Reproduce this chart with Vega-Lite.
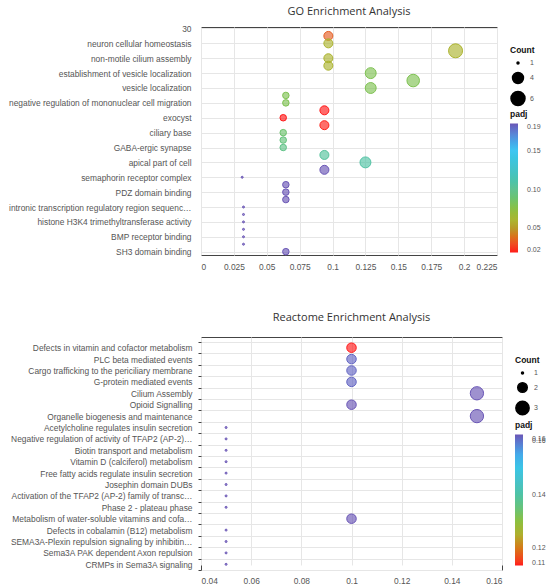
{
  "$schema": "https://vega.github.io/schema/vega-lite/v6.json",
  "padding": {"top": 5, "left": 8, "right": 0, "bottom": 0},
  "spacing": 40,
  "config": {
    "font": "Liberation Sans",
    "view": {"stroke": "#444444", "strokeWidth": 1},
    "axis": {"domain": false, "gridColor": "#e6e6e6", "gridWidth": 1, "labelColor": "#555555", "labelFont": "Liberation Sans", "labelFontSize": 8.4, "ticks": false, "labelPadding": 7, "title": null},
    "title": {"font": "Open Sans", "fontSize": 11, "fontWeight": "normal", "color": "#333333", "anchor": "middle"},
    "legend": {"titleFont": "Liberation Sans", "titleFontSize": 8.5, "titleFontWeight": "bold", "titleColor": "#111111", "labelFont": "Liberation Sans", "labelFontSize": 7, "labelColor": "#555555"}
  },
  "vconcat": [
    {
      "title": {"text": "GO Enrichment Analysis", "offset": 7},
      "width": 296,
      "height": 228,
      "data": {"values": [
        {"rank": 29, "ratio": 0.0968, "count": 3, "padj": 0.036},
        {"rank": 28, "term": "neuron cellular homeostasis", "ratio": 0.0968, "count": 3, "padj": 0.06},
        {"rank": 27, "ratio": 0.1935, "count": 6, "padj": 0.06},
        {"rank": 26, "term": "non-motile cilium assembly", "ratio": 0.0968, "count": 3, "padj": 0.06},
        {"rank": 25, "ratio": 0.0968, "count": 3, "padj": 0.06},
        {"rank": 24, "term": "establishment of vesicle localization", "ratio": 0.129, "count": 4, "padj": 0.08},
        {"rank": 23, "ratio": 0.1613, "count": 5, "padj": 0.08},
        {"rank": 22, "term": "vesicle localization", "ratio": 0.129, "count": 4, "padj": 0.08},
        {"rank": 21, "ratio": 0.0645, "count": 2, "padj": 0.08},
        {"rank": 20, "term": "negative regulation of mononuclear cell migration", "ratio": 0.0645, "count": 2, "padj": 0.08},
        {"rank": 19, "ratio": 0.0938, "count": 3, "padj": 0.019},
        {"rank": 18, "term": "exocyst", "ratio": 0.0625, "count": 2, "padj": 0.019},
        {"rank": 17, "ratio": 0.0938, "count": 3, "padj": 0.02},
        {"rank": 16, "term": "ciliary base", "ratio": 0.0625, "count": 2, "padj": 0.088},
        {"rank": 15, "ratio": 0.0625, "count": 2, "padj": 0.093},
        {"rank": 14, "term": "GABA-ergic synapse", "ratio": 0.0625, "count": 2, "padj": 0.097},
        {"rank": 13, "ratio": 0.0938, "count": 3, "padj": 0.105},
        {"rank": 12, "term": "apical part of cell", "ratio": 0.125, "count": 4, "padj": 0.108},
        {"rank": 11, "ratio": 0.0938, "count": 3, "padj": 0.185},
        {"rank": 10, "term": "semaphorin receptor complex", "ratio": 0.0313, "count": 1, "padj": 0.185},
        {"rank": 9, "ratio": 0.0645, "count": 2, "padj": 0.185},
        {"rank": 8, "term": "PDZ domain binding", "ratio": 0.0645, "count": 2, "padj": 0.185},
        {"rank": 7, "ratio": 0.0645, "count": 2, "padj": 0.185},
        {"rank": 6, "term": "intronic transcription regulatory region sequenc…", "ratio": 0.0323, "count": 1, "padj": 0.185},
        {"rank": 5, "ratio": 0.0323, "count": 1, "padj": 0.185},
        {"rank": 4, "term": "histone H3K4 trimethyltransferase activity", "ratio": 0.0323, "count": 1, "padj": 0.185},
        {"rank": 3, "ratio": 0.0323, "count": 1, "padj": 0.185},
        {"rank": 2, "term": "BMP receptor binding", "ratio": 0.0323, "count": 1, "padj": 0.185},
        {"rank": 1, "ratio": 0.0323, "count": 1, "padj": 0.185},
        {"rank": 0, "term": "SH3 domain binding", "ratio": 0.0645, "count": 2, "padj": 0.185}
      ]},
      "mark": {"type": "circle", "opacity": 1, "fillOpacity": 0.65, "strokeOpacity": 1, "strokeWidth": 1},
      "encoding": {
        "x": {"field": "ratio", "type": "quantitative", "scale": {"domain": [0, 0.225], "nice": false, "zero": false},
              "axis": {"values": [0, 0.025, 0.05, 0.075, 0.1, 0.125, 0.15, 0.175, 0.2, 0.225], "labelExpr": "format(datum.value, '.6~g')"}},
        "y": {"field": "rank", "type": "quantitative", "scale": {"domain": [-0.45, 30.2], "nice": false, "zero": false},
              "axis": {"values": [0, 2, 4, 6, 8, 10, 12, 14, 16, 18, 20, 22, 24, 26, 28, 30], "labelPadding": 10, "labelLimit": 300,
                       "labelExpr": "datum.value == 30 ? '30' : ['SH3 domain binding','BMP receptor binding','histone H3K4 trimethyltransferase activity','intronic transcription regulatory region sequenc…','PDZ domain binding','semaphorin receptor complex','apical part of cell','GABA-ergic synapse','ciliary base','exocyst','negative regulation of mononuclear cell migration','vesicle localization','establishment of vesicle localization','non-motile cilium assembly','neuron cellular homeostasis'][datum.value / 2]"}},
        "size": {"field": "count", "type": "quantitative", "scale": {"domain": [1, 6], "range": [4, 196], "zero": false},
                 "legend": {"title": "Count", "values": [1, 4, 6], "format": "d", "orient": "none", "legendX": 309, "legendY": 19, "symbolFillColor": "black", "symbolStrokeColor": "black", "symbolType": "circle", "symbolOpacity": 1}},
        "fill": {"field": "padj", "type": "quantitative",
                 "scale": {"domain": [0.019, 0.035, 0.05, 0.06, 0.075, 0.1, 0.125, 0.15, 0.168, 0.185], "range": ["#ff1a1a", "#e85a28", "#b89a28", "#acb430", "#8cc040", "#60c290", "#48c2c8", "#3ec6f2", "#5690dc", "#6a56b6"]},
                 "legend": {"type": "gradient", "title": "padj", "orient": "none", "legendX": 309, "legendY": 83, "direction": "vertical", "gradientLength": 129, "gradientThickness": 8, "gradientStrokeWidth": 0, "labelOffset": 9, "values": [0.019, 0.05, 0.1, 0.15, 0.1851], "format": ".2f", "labelOverlap": false}},
        "stroke": {"field": "padj", "type": "quantitative",
                   "scale": {"domain": [0.019, 0.0351, 0.05, 0.06, 0.075, 0.1, 0.125, 0.15, 0.168, 0.185], "range": ["#ff1a1a", "#e85a28", "#b89a28", "#acb430", "#8cc040", "#60c290", "#48c2c8", "#3ec6f2", "#5690dc", "#6a56b6"]},
                   "legend": null}
      }
    },
    {
      "title": {"text": "Reactome Enrichment Analysis", "offset": 10},
      "width": 301,
      "height": 233,
      "data": {"values": [
        {"pathway": "Defects in vitamin and cofactor metabolism", "ratio": 0.1, "count": 2, "padj": 0.1135},
        {"pathway": "PLC beta mediated events", "ratio": 0.1, "count": 2, "padj": 0.1612},
        {"pathway": "Cargo trafficking to the periciliary membrane", "ratio": 0.1, "count": 2, "padj": 0.1612},
        {"pathway": "G-protein mediated events", "ratio": 0.1, "count": 2, "padj": 0.1612},
        {"pathway": "Cilium Assembly", "ratio": 0.15, "count": 3, "padj": 0.1625},
        {"pathway": "Opioid Signalling", "ratio": 0.1, "count": 2, "padj": 0.1625},
        {"pathway": "Organelle biogenesis and maintenance", "ratio": 0.15, "count": 3, "padj": 0.1625},
        {"pathway": "Acetylcholine regulates insulin secretion", "ratio": 0.05, "count": 1, "padj": 0.1625},
        {"pathway": "Negative regulation of activity of TFAP2 (AP-2)…", "ratio": 0.05, "count": 1, "padj": 0.1625},
        {"pathway": "Biotin transport and metabolism", "ratio": 0.05, "count": 1, "padj": 0.1625},
        {"pathway": "Vitamin D (calciferol) metabolism", "ratio": 0.05, "count": 1, "padj": 0.1625},
        {"pathway": "Free fatty acids regulate insulin secretion", "ratio": 0.05, "count": 1, "padj": 0.1625},
        {"pathway": "Josephin domain DUBs", "ratio": 0.05, "count": 1, "padj": 0.1625},
        {"pathway": "Activation of the TFAP2 (AP-2) family of transc…", "ratio": 0.05, "count": 1, "padj": 0.1625},
        {"pathway": "Phase 2 - plateau phase", "ratio": 0.05, "count": 1, "padj": 0.1625},
        {"pathway": "Metabolism of water-soluble vitamins and cofa…", "ratio": 0.1, "count": 2, "padj": 0.1625},
        {"pathway": "Defects in cobalamin (B12) metabolism", "ratio": 0.05, "count": 1, "padj": 0.1625},
        {"pathway": "SEMA3A-Plexin repulsion signaling by inhibitin…", "ratio": 0.05, "count": 1, "padj": 0.1625},
        {"pathway": "Sema3A PAK dependent Axon repulsion", "ratio": 0.05, "count": 1, "padj": 0.1625},
        {"pathway": "CRMPs in Sema3A signaling", "ratio": 0.05, "count": 1, "padj": 0.1625}
      ]},
      "mark": {"type": "circle", "opacity": 1, "fillOpacity": 0.65, "strokeOpacity": 1, "strokeWidth": 1},
      "encoding": {
        "x": {"field": "ratio", "type": "quantitative", "scale": {"domain": [0.04, 0.16], "nice": false, "zero": false},
              "axis": {"values": [0.04, 0.06, 0.08, 0.1, 0.12, 0.14, 0.16], "labelExpr": "format(datum.value, '.6~g')", "labelPadding": 6}},
        "y": {"field": "pathway", "type": "nominal", "sort": null,
              "scale": {"range": [5, 233], "paddingInner": 0, "paddingOuter": 0},
              "axis": {"tickBand": "extent", "grid": true, "ticks": true, "tickSize": 3, "tickColor": "#444444", "labelPadding": 6, "labelLimit": 300}},
        "size": {"field": "count", "type": "quantitative", "scale": {"domain": [1, 3], "range": [4, 177], "zero": false},
                 "legend": {"title": "Count", "values": [1, 2, 3], "format": "d", "orient": "none", "legendX": 314, "legendY": 19, "symbolFillColor": "black", "symbolStrokeColor": "black", "symbolType": "circle", "symbolOpacity": 1}},
        "fill": {"field": "padj", "type": "quantitative",
                 "scale": {"domain": [0.1135, 0.1182, 0.1227, 0.1256, 0.13, 0.1374, 0.1448, 0.1522, 0.1575, 0.1625], "range": ["#ff1a1a", "#e85a28", "#b89a28", "#acb430", "#8cc040", "#60c290", "#48c2c8", "#3ec6f2", "#5690dc", "#6a56b6"]},
                 "legend": {"type": "gradient", "title": "padj", "orient": "none", "legendX": 314, "legendY": 84, "direction": "vertical", "gradientLength": 131, "gradientThickness": 8, "gradientStrokeWidth": 0, "labelOffset": 9, "values": [0.1135, 0.12, 0.14, 0.16, 0.1625], "format": ".2f", "labelOverlap": false}},
        "stroke": {"field": "padj", "type": "quantitative",
                   "scale": {"domain": [0.1135, 0.1183, 0.1227, 0.1256, 0.13, 0.1374, 0.1448, 0.1522, 0.1575, 0.1625], "range": ["#ff1a1a", "#e85a28", "#b89a28", "#acb430", "#8cc040", "#60c290", "#48c2c8", "#3ec6f2", "#5690dc", "#6a56b6"]},
                   "legend": null}
      }
    }
  ],
  "resolve": {"scale": {"size": "independent", "fill": "independent", "stroke": "independent"}}
}
